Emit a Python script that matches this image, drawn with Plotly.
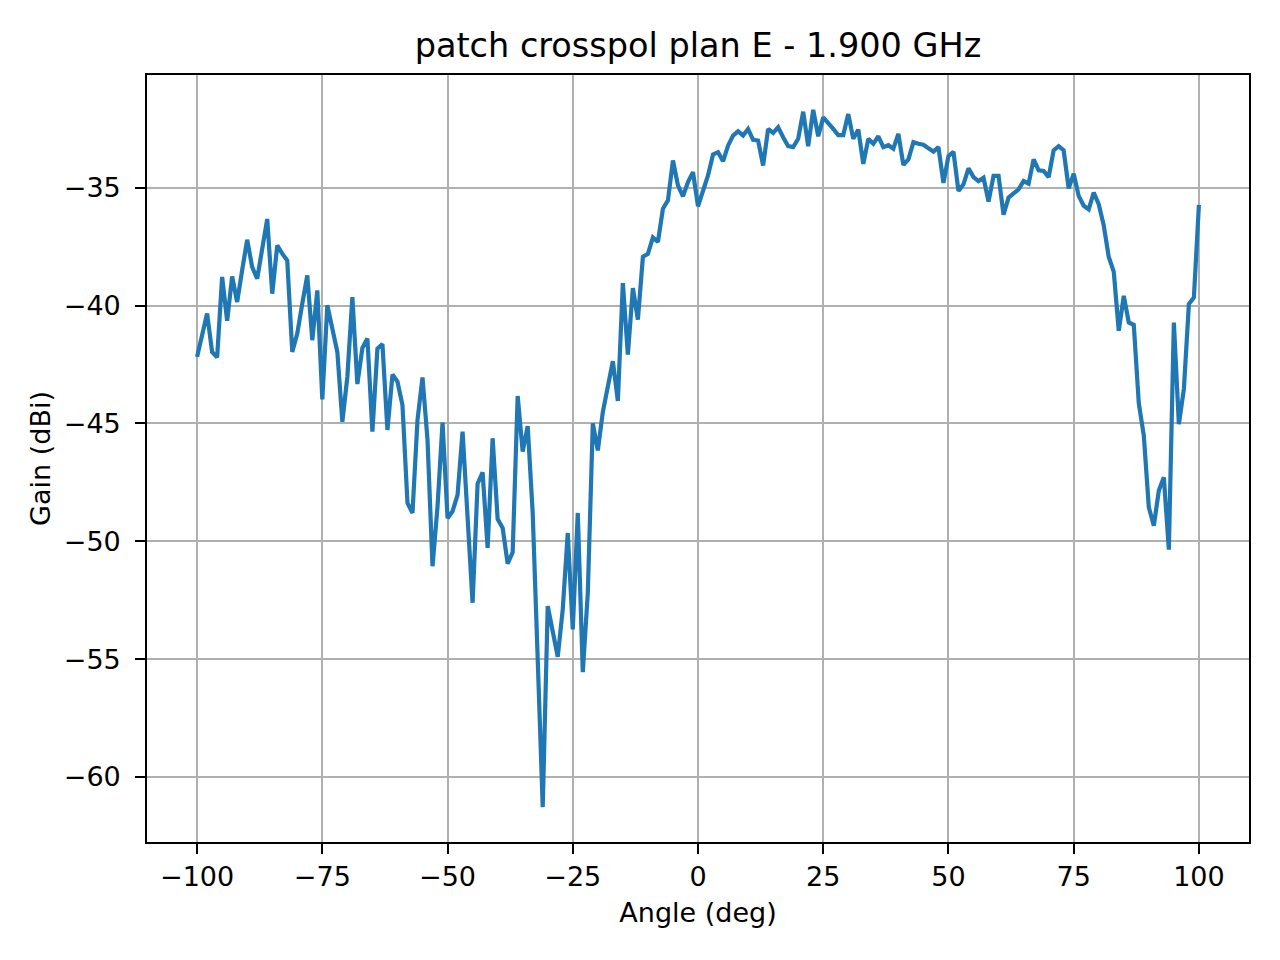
import plotly.graph_objects as go

# Measured cross-pol gain, E plane, 1 deg steps from -100 to 100
angles = list(range(-100, 101))
gain = [
    -42.18, -41.3, -40.34, -41.97, -42.2, -38.79, -40.65, -38.77, -39.85, -38.5,
    -37.21, -38.37, -38.86, -37.6, -36.33, -39.5, -37.45, -37.8, -38.09, -41.97,
    -41.19, -39.92, -38.72, -41.47, -39.36, -43.98, -39.99, -40.98, -41.97, -44.93,
    -43.02, -39.64, -43.33, -41.8, -41.4, -45.35, -41.83, -41.64, -45.28, -42.93,
    -43.23, -44.22, -48.38, -48.8, -44.86, -43.05, -45.7, -51.06, -48.52, -44.97,
    -49.02, -48.73, -48.03, -45.35, -48.8, -52.61, -47.56, -47.08, -50.28, -45.63,
    -49.06, -49.44, -50.95, -50.47, -43.84, -46.2, -45.12, -48.8, -55.0, -61.28,
    -52.75, -53.81, -54.9, -52.89, -49.65, -53.74, -48.8, -55.55, -52.19, -45.0,
    -46.15, -44.52, -43.44, -42.36, -44.05, -39.05, -42.08, -39.26, -40.6, -37.93,
    -37.81, -37.11, -37.3, -35.89, -35.54, -33.85, -34.9, -35.37, -34.76, -34.34,
    -35.79, -35.08, -34.48, -33.59, -33.5, -33.88, -33.22, -32.79, -32.61, -32.79,
    -32.51, -32.97, -33.0, -34.06, -32.51, -32.68, -32.44, -32.86, -33.24, -33.28,
    -32.93, -31.78, -33.24, -31.7, -32.82, -32.02, -32.3, -32.51, -32.77, -32.77,
    -31.88, -32.93, -32.54, -33.99, -32.93, -33.14, -32.82, -33.28, -33.2, -33.35,
    -32.72, -34.03, -33.8, -33.07, -33.14, -33.18, -33.33, -33.47, -33.28, -34.8,
    -33.66, -33.48, -35.14, -34.86, -34.18, -34.55, -34.72, -34.58, -35.59, -34.5,
    -34.5, -36.15, -35.42, -35.25, -35.07, -34.72, -34.83, -33.8, -34.26, -34.29,
    -34.55, -33.42, -33.24, -33.42, -35.03, -34.41, -35.35, -35.77, -35.92, -35.21,
    -35.7, -36.6, -37.94, -38.56, -41.07, -39.59, -40.72, -40.82, -44.15, -45.52,
    -48.56, -49.34, -47.85, -47.29, -50.36, -40.72, -45.03, -43.54, -39.94, -39.66,
    -35.73,
]
x_ticks = [-100, -75, -50, -25, 0, 25, 50, 75, 100]
y_ticks = [-60, -55, -50, -45, -40, -35]

# matplotlib-like autoscale (5% margins)
span_y = max(gain) - min(gain)
y_range = [min(gain) - 0.05 * span_y, max(gain) + 0.05 * span_y]
span_x = angles[-1] - angles[0]
x_range = [angles[0] - 0.05 * span_x, angles[-1] + 0.05 * span_x]

font = "DejaVu Sans"

fig = go.Figure()
fig.add_trace(go.Scatter(x=angles, y=gain, mode="lines",
                         line=dict(color="#1f77b4", width=4.2)))

axis_style = dict(showline=True, linecolor="black", linewidth=2.2, mirror=True,
                  showgrid=True, gridcolor="#b0b0b0", gridwidth=2.2,
                  ticks="outside", ticklen=9.7, tickwidth=2.2, tickcolor="black",
                  zeroline=False, tickfont=dict(family=font, size=27, color="black"))

# page body has an 8px margin, so the figure is a bit smaller than the window
W, H = 1272, 952

fig.update_layout(
    width=W, height=H,
    margin=dict(l=139, r=31, t=67, b=118),
    paper_bgcolor="white", plot_bgcolor="white",
    showlegend=False,
    title=dict(text="patch crosspol plan E - 1.900 GHz", x=0.5, xref="paper",
               y=1 - 49 / H, yref="container", yanchor="bottom",
               font=dict(family=font, size=33.5, color="black")),
    xaxis=dict(range=x_range, tickvals=x_ticks, ticklabelstandoff=0,
               title=dict(text="Angle (deg)", standoff=12,
                          font=dict(family=font, size=27, color="black")),
               **axis_style),
    yaxis=dict(range=y_range, tickvals=y_ticks, ticklabelstandoff=9,
               title=dict(text="Gain (dBi)", standoff=5,
                          font=dict(family=font, size=27, color="black")),
               **axis_style),
)

fig.write_html("out.html")
